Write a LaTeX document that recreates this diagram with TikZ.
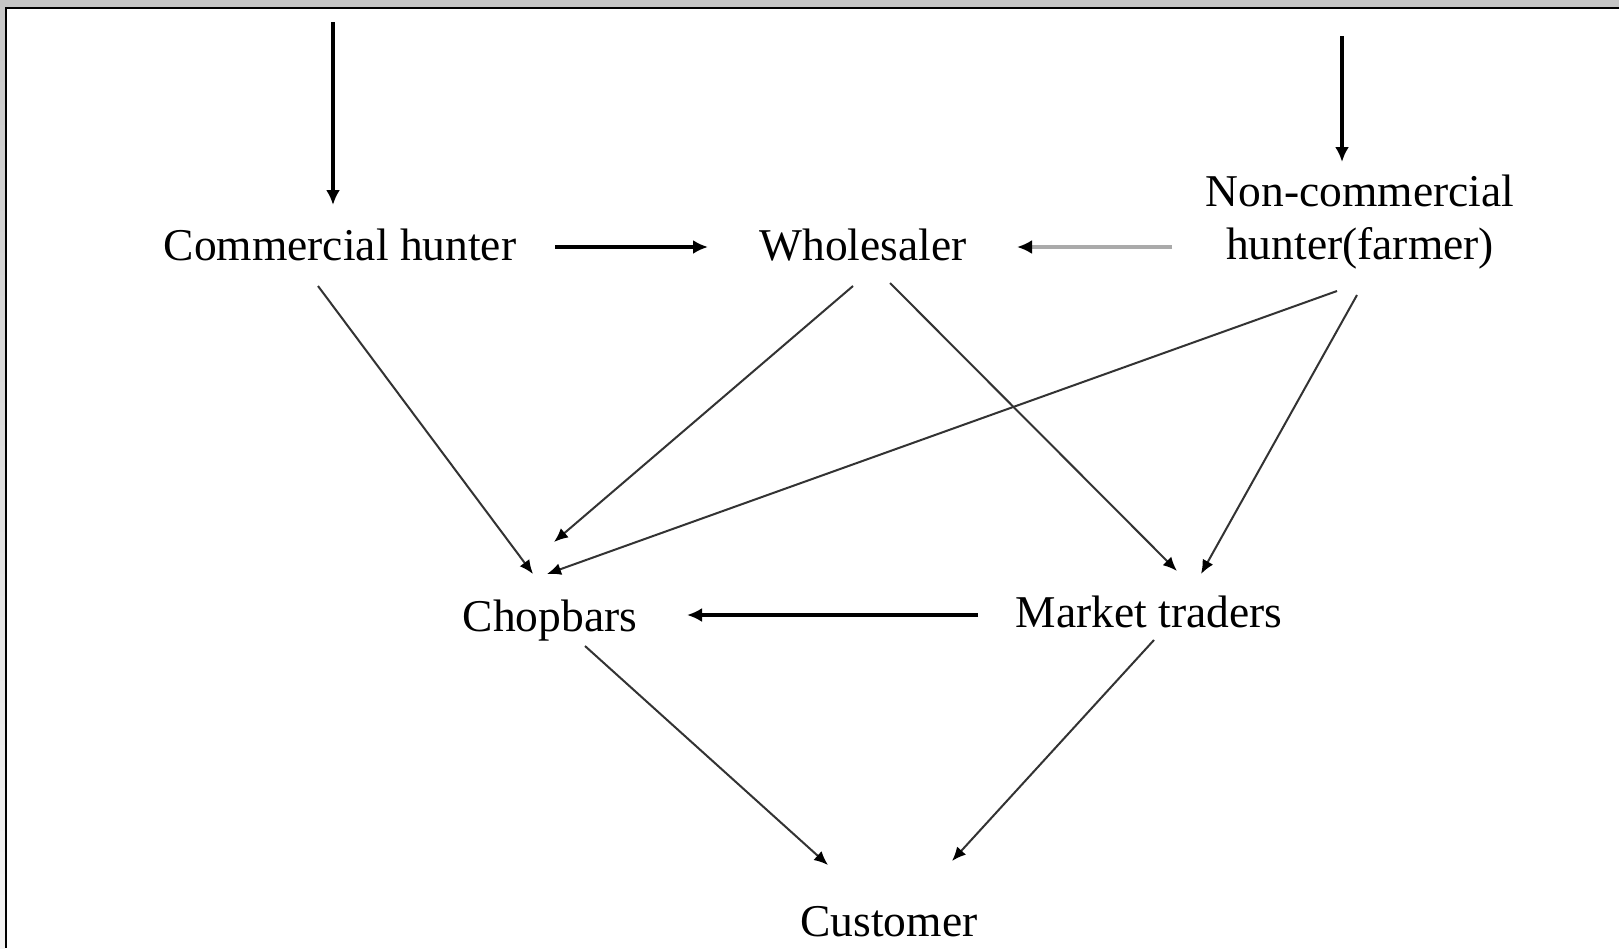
\documentclass[tikz,border=0pt]{standalone}
\usepackage{fontspec}
\setmainfont{Liberation Serif}
\usetikzlibrary{arrows.meta}
\definecolor{bandgray}{RGB}{197,197,197}
\definecolor{bandtop}{RGB}{200,200,200}
\definecolor{bandbot}{RGB}{244,244,244}
\definecolor{arrowgray}{RGB}{170,170,170}
\begin{document}
\begin{tikzpicture}[x=1pt,y=-1pt,
  lbl/.style={inner sep=0pt, anchor=base, font=\fontsize{45.5}{53}\selectfont, align=center},
  heavyarrow/.style={line width=4pt, -{Latex[length=15pt,width=14pt]}},
  greyarrow/.style={line width=4pt, draw=arrowgray, -{Latex[length=15pt,width=14pt,color=black]}},
  lightarrow/.style={line width=2pt, draw=black!80, -{Latex[length=14pt,width=12pt,color=black]}}
]
\useasboundingbox (0,0) rectangle (1619,948);
% frame
\fill[white] (0,0) rectangle (1619,948);
\fill[bandgray] (0,0) rectangle (1619,7);
\shade[top color=bandtop, bottom color=bandbot] (0,7) rectangle (5,948);
\draw[line width=2pt] (5,7.6) -- (1619,7.6);
\draw[line width=2pt] (6.2,7) -- (6.2,948);

% nodes
\node[lbl] (ch)   at (340,260) {Commercial hunter};
\node[lbl] (wh)   at (863,260) {Wholesaler};
\node[lbl] (nc)   at (1360,259) {Non-commercial\\hunter(farmer)};
\node[lbl] (chop) at (550,631) {Chopbars};
\node[lbl] (mt)   at (1149,627) {Market traders};
\node[lbl] (cu)   at (889,936) {Customer};

\coordinate (srcA) at (333,22);
\coordinate (srcB) at (1342,36);

% connectors
\draw[heavyarrow] (srcA) -- ([shift={(-7,-55)}]ch.base);
\draw[heavyarrow] (srcB) -- ([shift={(-18,-97)}]nc.base);
\draw[heavyarrow] ([shift={(215,-13)}]ch.base) -- ([shift={(-155,-13)}]wh.base);
\draw[greyarrow] ([shift={(-188,-12)}]nc.base) -- ([shift={(154,-13)}]wh.base);
\draw[lightarrow] ([shift={(-22,26)}]ch.base) -- ([shift={(-17,-57)}]chop.base);
\draw[lightarrow] ([shift={(-10,26)}]wh.base) -- ([shift={(4,-89)}]chop.base);
\draw[lightarrow] ([shift={(27,23)}]wh.base) -- ([shift={(28,-56)}]mt.base);
\draw[lightarrow] ([shift={(-23,32)}]nc.base) -- ([shift={(-3,-57)}]chop.base);
\draw[lightarrow] ([shift={(-3,36)}]nc.base) -- ([shift={(52,-53)}]mt.base);
\draw[heavyarrow] ([shift={(-171,-12)}]mt.base) -- ([shift={(137,-16)}]chop.base);
\draw[lightarrow] ([shift={(35,15)}]chop.base) -- ([shift={(-61,-71)}]cu.base);
\draw[lightarrow] ([shift={(5,13)}]mt.base) -- ([shift={(63,-75)}]cu.base);
\end{tikzpicture}
\end{document}
